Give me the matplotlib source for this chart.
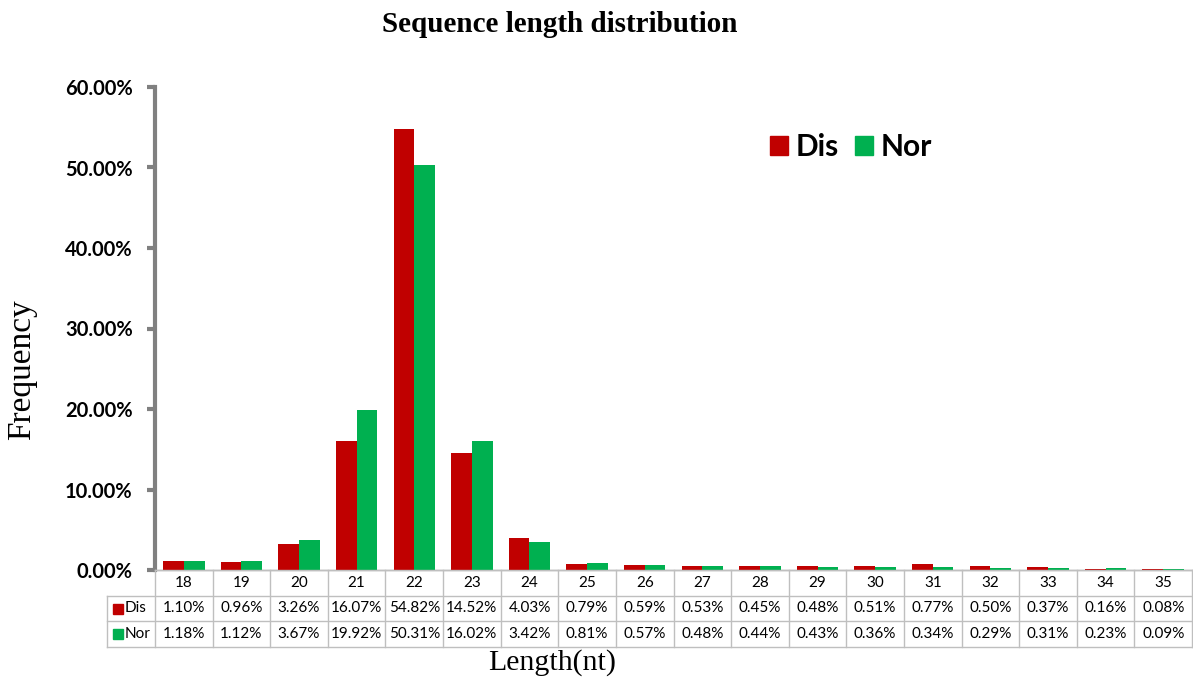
import matplotlib
matplotlib.use("Agg")
import matplotlib.pyplot as plt
from matplotlib.patches import Rectangle
from matplotlib.ticker import FuncFormatter

# Sequence lengths (nt) and their frequencies (%) in the two groups
lengths = [18, 19, 20, 21, 22, 23, 24, 25, 26, 27, 28, 29, 30, 31, 32, 33, 34, 35]
dis = [1.10, 0.96, 3.26, 16.07, 54.82, 14.52, 4.03, 0.79, 0.59, 0.53,
       0.45, 0.48, 0.51, 0.77, 0.50, 0.37, 0.16, 0.08]
nor = [1.18, 1.12, 3.67, 19.92, 50.31, 16.02, 3.42, 0.81, 0.57, 0.48,
       0.44, 0.43, 0.36, 0.34, 0.29, 0.31, 0.23, 0.09]
series_names = ["Dis", "Nor"]
colors = ["#C00000", "#00B050"]
yticks = [0, 10, 20, 30, 40, 50, 60]

W, H = 1193, 677
fig = plt.figure(figsize=(W / 100, H / 100), dpi=100)


def px_box(x0, y0, x1, y1):
    """Axes rectangle from pixel corners (origin top-left)."""
    return [x0 / W, 1 - y1 / H, (x1 - x0) / W, (y1 - y0) / H]


left_px, right_px, top_px, zero_px = 155, 1192, 87, 570
ax = fig.add_axes(px_box(left_px, top_px, right_px, zero_px))

n = len(lengths)
idx = list(range(n))
bw = 0.36
ax.bar([i - bw / 2 for i in idx], dis, width=bw, color=colors[0], zorder=3)
ax.bar([i + bw / 2 for i in idx], nor, width=bw, color=colors[1], zorder=3)

ax.set_xlim(-0.5, n - 0.5)
ax.set_ylim(0, 60)
ax.set_yticks(yticks)
ax.yaxis.set_major_formatter(FuncFormatter(lambda v, p: f"{v:.2f}%"))
for lab in ax.get_yticklabels():
    lab.set_fontfamily("Lato")
    lab.set_fontweight("bold")
    lab.set_fontsize(14.5)
ax.tick_params(axis="y", direction="out", length=6, width=3, color="#808080", pad=10)
ax.tick_params(axis="x", bottom=False, labelbottom=False)
for s in ("top", "right"):
    ax.spines[s].set_visible(False)
ax.spines["left"].set_color("#808080")
ax.spines["left"].set_linewidth(3)
ax.spines["bottom"].set_color("#A6A6A6")
ax.spines["bottom"].set_linewidth(1)

# legend drawn as squares with bold labels
leg_handles = [Rectangle((0, 0), 1, 1, color=c) for c in colors]
fig.legend(leg_handles, series_names, loc="center left",
           bbox_to_anchor=(770 / W, 1 - 147 / H), bbox_transform=fig.transFigure,
           ncol=2, frameon=False, borderpad=0, borderaxespad=0,
           handlelength=0.6, handleheight=0.6,
           handletextpad=0.25, columnspacing=0.55,
           prop={"family": "Lato", "weight": "bold", "size": 21.5})

# data table underneath the bars
label_px = 107
tab = fig.add_axes(px_box(label_px, zero_px, right_px, 647))
cell_px = (right_px - left_px) / n
lab_w = (left_px - label_px) / cell_px
x_lo = -0.5 - lab_w
tab.set_xlim(x_lo, n - 0.5)
tab.set_ylim(3, 0)
tab.axis("off")
grid = dict(color="#BFBFBF", lw=1, clip_on=False)
tab.plot([-0.5, n - 0.5], [0, 0], **grid)
for r in (1, 2, 3):
    tab.plot([x_lo, n - 0.5], [r, r], **grid)
for k in range(n + 1):
    tab.plot([-0.5 + k, -0.5 + k], [0, 3], **grid)
tab.plot([x_lo, x_lo], [1, 3], **grid)

cell_font = dict(fontfamily="Lato", fontsize=11)
for i, L in enumerate(lengths):
    tab.text(i, 0.5, str(L), ha="center", va="center", **cell_font)
    tab.text(i, 1.5, f"{dis[i]:.2f}%", ha="center", va="center", **cell_font)
    tab.text(i, 2.5, f"{nor[i]:.2f}%", ha="center", va="center", **cell_font)

sq_w = 10 / cell_px
row_px = (647 - zero_px) / 3
sq_h = 10 / row_px
for r, (name, c) in enumerate(zip(series_names, colors)):
    tab.add_patch(Rectangle((x_lo + 6 / cell_px, r + 1.5 - sq_h / 2), sq_w, sq_h,
                            color=c, clip_on=False))
    tab.text(x_lo + 18 / cell_px, r + 1.5, name, ha="left", va="center", **cell_font)

fig.text(22 / W, 1 - 370 / H, "Frequency", ha="center", va="center", rotation=90,
         fontfamily="Liberation Serif", fontsize=24)
fig.text(552 / W, 1 - 663 / H, "Length(nt)", ha="center", va="center",
         fontfamily="Liberation Serif", fontsize=21.5)
fig.text(560 / W, 1 - 24 / H, "Sequence length distribution", ha="center", va="center",
         fontfamily="Liberation Serif", fontweight="bold", fontsize=21)

fig.savefig("out.png", dpi=100, facecolor="white")
